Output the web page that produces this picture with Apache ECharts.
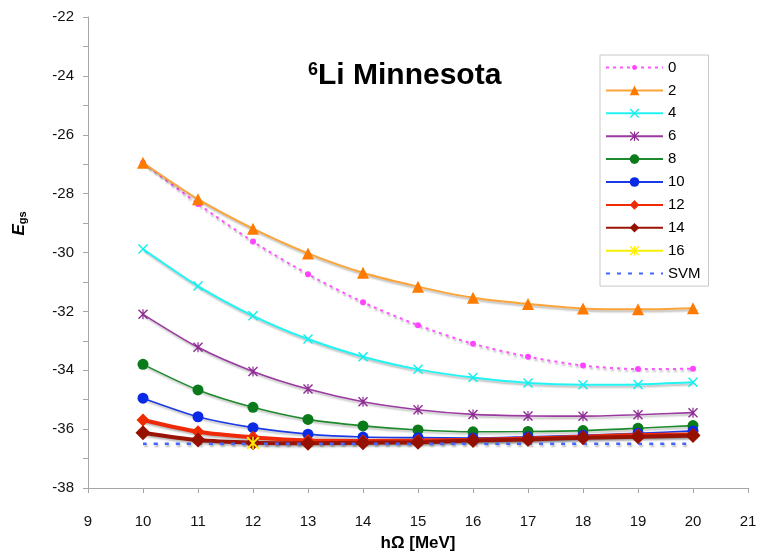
<!DOCTYPE html>
<html>
<head>
<meta charset="utf-8">
<title>6Li Minnesota</title>
<script src="https://cdn.jsdelivr.net/npm/echarts@6/dist/echarts.min.js"></script>
<style>
  html, body { margin: 0; padding: 0; background: #fff; }
  #chart { width: 762px; height: 555px; }
</style>
</head>
<body>
<div id="chart"></div>
<script>
// Oscillator energies hΩ [MeV]
const hw = [10, 11, 12, 13, 14, 15, 16, 17, 18, 19, 20];

// Ground-state energies E_gs for each model space N_max
const e0  = [-26.95, -28.35, -29.63, -30.74, -31.69, -32.47, -33.10, -33.54, -33.84, -33.96, -33.95];
const e2  = [-26.95, -28.19, -29.19, -30.03, -30.69, -31.16, -31.54, -31.75, -31.90, -31.93, -31.89];
const e4  = [-29.88, -31.14, -32.15, -32.94, -33.54, -33.97, -34.25, -34.43, -34.49, -34.48, -34.41];
const e6  = [-32.10, -33.22, -34.04, -34.64, -35.07, -35.34, -35.50, -35.55, -35.56, -35.51, -35.44];
const e8  = [-33.80, -34.67, -35.26, -35.67, -35.89, -36.03, -36.09, -36.08, -36.05, -35.97, -35.88];
const e10 = [-34.95, -35.58, -35.95, -36.17, -36.27, -36.29, -36.30, -36.26, -36.21, -36.14, -36.06];
const e12 = [-35.69, -36.09, -36.28, -36.39, -36.40, -36.39, -36.36, -36.32, -36.26, -36.20, -36.18];
const e14 = [-36.12, -36.37, -36.46, -36.48, -36.46, -36.45, -36.39, -36.35, -36.29, -36.26, -36.22];
const hw16 = [12];
const e16  = [-36.47];
const hwSvm = [10, 20];
const eSvm  = [-36.5, -36.5];

const xTicks = { min: 9, max: 21, step: 1 };
const yTicks = { min: -38, max: -22, step: 2 };

const pairs = (xs, ys) => xs.map((x, i) => [x, ys[i]]);

// marker shapes
const crossPath = 'path://M0,1 L1,0 L5,4 L9,0 L10,1 L6,5 L10,9 L9,10 L5,6 L1,10 L0,9 L4,5 Z';
const starPath = crossPath + ' M4.4,0 L5.6,0 L5.6,10 L4.4,10 Z';
// small dot centred in a wider box, so it stays small in the legend too
const dotPath = 'path://M0,0 M10,10 M5,2.5 A2.5,2.5 0 1,1 5,7.5 A2.5,2.5 0 1,1 5,2.5 Z';

const shadow = { shadowColor: 'rgba(0,0,0,0.28)', shadowBlur: 2, shadowOffsetX: 1, shadowOffsetY: 2 };

function line(name, xs, ys, lineColor, markColor, width, symbol, size, dash) {
  return {
    name: name,
    type: 'line',
    data: pairs(xs, ys),
    smooth: 0.25,
    symbol: symbol,
    symbolSize: size,
    showSymbol: size > 0,
    lineStyle: Object.assign({ color: lineColor, width: width, type: dash || 'solid' }, shadow),
    itemStyle: { color: markColor, borderWidth: 0 },
    emphasis: { disabled: true },
    animation: false
  };
}

const series = [
  line('0',  hw, e0,  '#ff55ff', '#ff44ff', 2, dotPath, 12, [3, 4]),
  line('2',  hw, e2,  '#fba43a', '#ff7a00', 2, 'triangle', 12),
  line('4',  hw, e4,  '#22f4f4', '#11eeee', 2, crossPath, 10),
  line('6',  hw, e6,  '#9a3aa0', '#8e2c94', 1.6, starPath, 10),
  line('8',  hw, e8,  '#1f8a2c', '#0a7a1a', 1.6, 'circle', 11),
  line('10', hw, e10, '#1a3ae6', '#0a2ae6', 1.6, 'circle', 11),
  line('12', hw, e12, '#ee2a08', '#ee2a00', 4, 'diamond', 13),
  line('14', hw, e14, '#9a1406', '#961000', 4, 'diamond', 15),
  line('16', hw16, e16, '#f8f000', '#ffee00', 2, starPath, 13),
  line('SVM', hwSvm, eSvm, '#4466ff', '#4466ff', 2.5, 'circle', 0, [4, 7])
];

const legendItems = series.map(s => s.name === 'SVM'
  ? { name: s.name, itemStyle: { color: 'rgba(0,0,0,0)', opacity: 0 } }
  : { name: s.name });

const chart = echarts.init(document.getElementById('chart'), null, { renderer: 'canvas' });
const axisGray = '#a6a6a6';
const font = '"Liberation Sans", Arial, sans-serif';

chart.setOption({
  backgroundColor: '#ffffff',
  animation: false,
  textStyle: { fontFamily: font },
  title: {
    text: '{s|6}{m|Li Minnesota}',
    left: 303,
    top: 56,
    textStyle: {
      rich: {
        s: { fontSize: 18, fontWeight: 'bold', color: '#000', fontFamily: font, verticalAlign: 'top' },
        m: { fontSize: 30, fontWeight: 'bold', color: '#000', fontFamily: font }
      }
    }
  },
  legend: {
    orient: 'vertical',
    left: 600,
    top: 55,
    padding: [5, 8, 5, 5],
    itemWidth: 57,
    itemHeight: 12,
    itemGap: 7.9,
    borderColor: '#c8c8c8',
    borderWidth: 1,
    backgroundColor: '#ffffff',
    textStyle: { fontSize: 15, color: '#000', fontFamily: font },
    data: legendItems
  },
  grid: { left: 88, right: 14, top: 17, bottom: 67, containLabel: false, outerBoundsMode: 'none' },
  xAxis: {
    type: 'value',
    min: xTicks.min,
    max: xTicks.max,
    interval: xTicks.step,
    name: 'hΩ [MeV]',
    nameLocation: 'middle',
    nameGap: 47,
    nameTextStyle: { fontSize: 17, fontWeight: 'bold', color: '#000', fontFamily: font },
    axisLine: { show: true, onZero: false, lineStyle: { color: axisGray, width: 1 } },
    axisTick: { show: true, inside: false, length: 5, lineStyle: { color: axisGray } },
    axisLabel: { fontSize: 15, color: '#111', margin: 26, fontFamily: font },
    splitLine: { show: false }
  },
  yAxis: {
    type: 'value',
    min: yTicks.min,
    max: yTicks.max,
    interval: yTicks.step,
    name: '{e|E}{g|gs}',
    nameLocation: 'middle',
    nameGap: 60,
    nameRotate: 90,
    nameTextStyle: {
      padding: [0, 0, 0, 58],
      rich: {
        e: { fontSize: 17, fontWeight: 'bold', fontStyle: 'italic', color: '#000', fontFamily: font },
        g: { fontSize: 11, fontWeight: 'bold', color: '#000', fontFamily: font, verticalAlign: 'bottom', padding: [5, 0, 0, 0] }
      }
    },
    axisLine: { show: true, onZero: false, lineStyle: { color: axisGray, width: 1 } },
    axisTick: { show: true, inside: false, length: 5, lineStyle: { color: axisGray } },
    minorTick: { show: true, splitNumber: 2, length: 5, lineStyle: { color: axisGray } },
    axisLabel: { fontSize: 15, color: '#111', margin: 14, fontFamily: font },
    splitLine: { show: false }
  },
  series: series
});
</script>
</body>
</html>
